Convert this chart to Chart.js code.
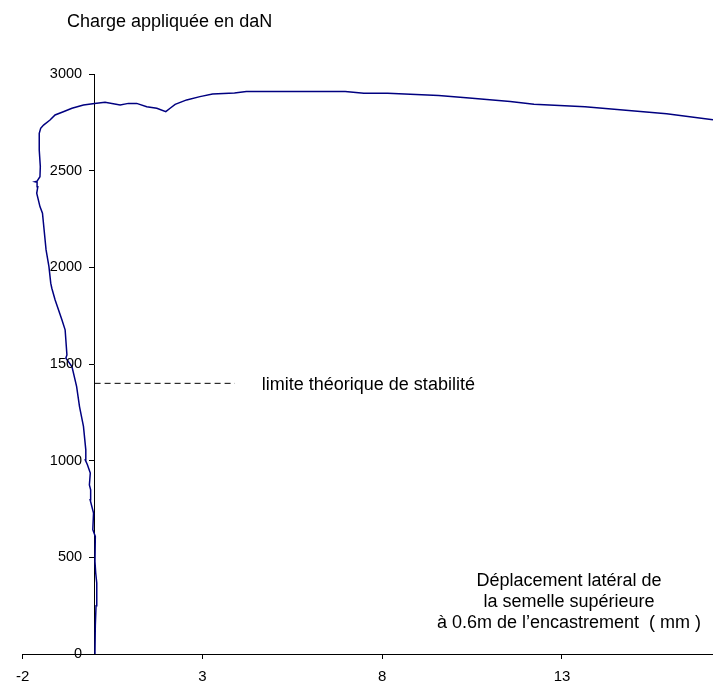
<!DOCTYPE html>
<html>
<head>
<meta charset="utf-8">
<script src="https://cdn.jsdelivr.net/npm/chart.js@4/dist/chart.umd.min.js"></script>
<style>
html,body{margin:0;padding:0;background:#fff;overflow:hidden;}
#wrap{width:713px;height:686px;}
</style>
</head>
<body>
<div id="wrap"><canvas id="c" width="713" height="686"></canvas></div>
<script>
// Lateral displacement (mm) and applied load (daN)
const dispX = [0, 0.01, 0.02, 0.04, 0.06, 0.03, 0.01, 0.02, -0.05, -0.03, -0.125, -0.11, -0.145, -0.12, -0.2, -0.26, -0.245, -0.31, -0.42, -0.5, -0.63, -0.8, -0.77, -0.82, -0.91, -1.1, -1.19, -1.22, -1.27, -1.35, -1.45, -1.52, -1.61, -1.58, -1.6, -1.66, -1.6, -1.52, -1.51, -1.54, -1.54, -1.5, -1.42, -1.24, -1.1, -0.87, -0.63, -0.31, 0, 0.29, 0.71, 0.94, 1.17, 1.45, 1.73, 1.98, 2.1, 2.24, 2.56, 2.93, 3.28, 3.89, 4.22, 6.97, 7.49, 8.15, 9.57, 10.42, 11.56, 12.22, 13.64, 15.91, 17.2];
const chargeY = [0, 13, 150, 250, 367, 420, 480, 608, 643, 729, 798, 849, 875, 936, 979, 1004, 1056, 1177, 1280, 1383, 1487, 1530, 1547, 1677, 1729, 1832, 1892, 1918, 2004, 2090, 2280, 2314, 2383, 2417, 2440, 2443, 2446, 2469, 2521, 2607, 2693, 2719, 2736, 2762, 2788, 2805, 2823, 2840, 2848, 2854, 2840, 2848, 2848, 2831, 2823, 2805, 2823, 2843, 2866, 2883, 2897, 2902, 2909, 2909, 2900, 2900, 2889, 2876, 2858, 2844, 2830, 2795, 2763];
// Theoretical stability limit (dashed)
const limitX = [0, 3.9];
const limitY = [1400, 1400];
// Axis ticks
const xTickValues = [-2, 3, 8, 13];
const yTickStep = 500;
const yMin = 0, yMax = 3000;
const xMin = -2, xMax = 17.2;
// Texts
const yTitle = "Charge appliquée en daN";
const limitLabel = "limite théorique de stabilité";
const xTitleLines = ["Déplacement latéral de", "la semelle supérieure", "à 0.6m de l\u2019encastrement  ( mm )"];

const FONT = '"Liberation Sans", Arial, sans-serif';

const curve = dispX.map((x, i) => ({x: x, y: chargeY[i]}));
const limit = limitX.map((x, i) => ({x: x, y: limitY[i]}));

const textPlugin = {
  id: 'texts',
  afterDraw(chart) {
    const ctx = chart.ctx;
    const xs = chart.scales.x, ys = chart.scales.y;
    ctx.save();
    ctx.fillStyle = '#000';
    // y tick labels, to the left of the crossing axis
    ctx.font = '14.5px ' + FONT;
    ctx.textAlign = 'right';
    ctx.textBaseline = 'middle';
    const ax = xs.getPixelForValue(0);
    ys.ticks.forEach(t => ctx.fillText(String(t.value), ax - 12.5, ys.getPixelForValue(t.value)));
    // free texts
    ctx.font = '18px ' + FONT;
    ctx.textBaseline = 'alphabetic';
    ctx.textAlign = 'left';
    ctx.fillText(yTitle, 67, 27);
    ctx.fillText(limitLabel, xs.getPixelForValue(4.65), ys.getPixelForValue(limitY[0]) + 6.5);
    ctx.textAlign = 'center';
    const cx = 569;
    const base = [586, 606.5, 627.5];
    xTitleLines.forEach((t, i) => ctx.fillText(t, cx, base[i]));
    ctx.restore();
  }
};

new Chart(document.getElementById('c'), {
  type: 'scatter',
  data: {
    datasets: [
      {
        data: curve,
        showLine: true,
        borderColor: '#000080',
        borderWidth: 1.5,
        pointRadius: 0,
        tension: 0,
        fill: false
      },
      {
        data: limit,
        showLine: true,
        borderColor: '#000',
        borderWidth: 1,
        borderDash: [6, 4],
        pointRadius: 0,
        fill: false
      }
    ]
  },
  options: {
    responsive: false,
    animation: false,
    events: [],
    layout: {padding: {left: 22.7, top: 74, right: 0, bottom: -9}},
    plugins: {legend: {display: false}, tooltip: {enabled: false}, title: {display: false}},
    scales: {
      x: {
        type: 'linear',
        position: 'bottom',
        min: xMin,
        max: xMax,
        afterBuildTicks: (s) => { s.ticks = xTickValues.map(v => ({value: v})); },
        grid: {drawOnChartArea: false, drawTicks: true, tickLength: 5, color: '#000', lineWidth: 1},
        border: {display: true, color: '#000', width: 1},
        ticks: {color: '#000', font: {family: FONT, size: 15}, padding: 9, maxRotation: 0, autoSkip: false}
      },
      y: {
        type: 'linear',
        position: {x: 0},
        min: yMin,
        max: yMax,
        ticks: {stepSize: yTickStep, display: false},
        grid: {drawOnChartArea: false, drawTicks: true, tickLength: 5, color: '#000', lineWidth: 1},
        border: {display: true, color: '#000', width: 1}
      }
    }
  },
  plugins: [textPlugin]
});
</script>
</body>
</html>
